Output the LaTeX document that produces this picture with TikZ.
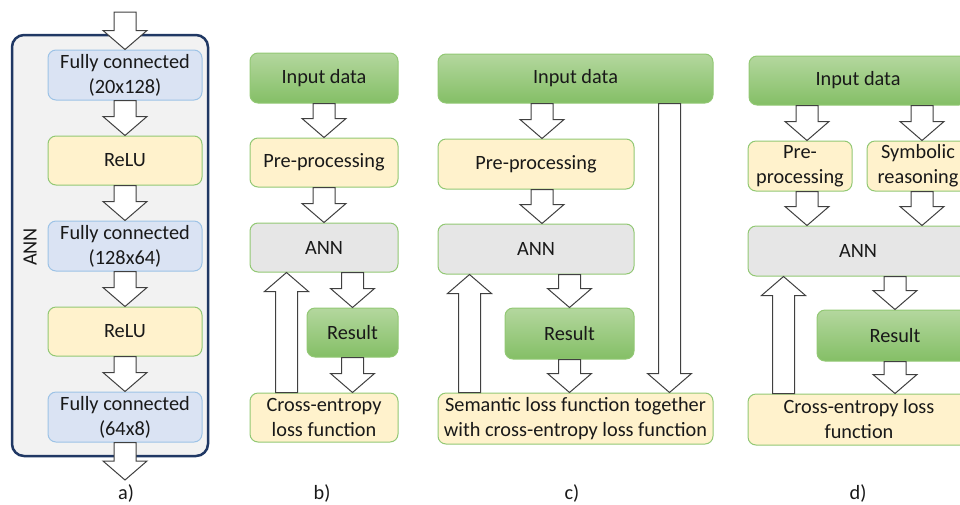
\documentclass[tikz,border=0pt]{standalone}
\usepackage{fontspec}
\setmainfont{Carlito}
\usetikzlibrary{calc}
\definecolor{gtop}{RGB}{180,215,158}
\definecolor{gbot}{RGB}{132,191,102}
\definecolor{gline}{RGB}{146,200,116}
\definecolor{yfill}{RGB}{255,242,204}
\definecolor{grfill}{RGB}{230,230,230}
\definecolor{bfill}{RGB}{218,227,243}
\definecolor{bline}{RGB}{157,195,230}
\definecolor{navy}{RGB}{32,56,100}
\definecolor{panelfill}{RGB}{242,242,242}
\definecolor{arrline}{RGB}{64,64,64}
\definecolor{txt}{RGB}{25,25,25}
\newcommand\dnarr[2]{\draw[barrow] let \p1=#1,\p2=#2 in
  (\x1-11pt,\y1) -- (\x1-11pt,\y2+19pt) -- (\x1-22pt,\y2+19pt) -- (\x1,\y2)
  -- (\x1+22pt,\y2+19pt) -- (\x1+11pt,\y2+19pt) -- (\x1+11pt,\y1) -- cycle;}
\newcommand\uparr[2]{\draw[barrow] let \p1=#1,\p2=#2 in
  (\x1-11pt,\y1) -- (\x1-11pt,\y2-19pt) -- (\x1-22pt,\y2-19pt) -- (\x1,\y2)
  -- (\x1+22pt,\y2-19pt) -- (\x1+11pt,\y2-19pt) -- (\x1+11pt,\y1) -- cycle;}
\begin{document}
\begin{tikzpicture}[x=1pt,y=-1pt,
  font=\fontsize{20.3}{25}\selectfont, text=txt,
  sz/.style 2 args={minimum width=#1pt, minimum height=#2pt},
  box/.style={rounded corners=8pt, line width=1pt, align=center, inner sep=0pt},
  greenbox/.style={box, draw=gline, top color=gtop, bottom color=gbot},
  yelbox/.style={box, draw=gline, fill=yfill},
  graybox/.style={box, draw=gline, fill=grfill},
  bluebox/.style={box, draw=bline, fill=bfill},
  barrow/.style={draw=arrline, fill=white, line width=1pt, line join=miter},
  lab/.style={inner sep=0pt}]
\useasboundingbox (0,0) rectangle (960,504);
\clip (0,0) rectangle (960,504);

% ---------- panel a ----------
\node[draw=navy, line width=2.5pt, fill=panelfill, rounded corners=12pt, sz={196}{421}] (annbox) at (110,245.5) {};
\node[rotate=90, lab] (annlab) at (30,247) {ANN};
\node[bluebox, sz={154}{50}] (fc1) at (125,75) {Fully connected\\(20x128)};
\node[yelbox, sz={154}{49}] (relu1) at (125,160.5) {ReLU};
\node[bluebox, sz={154}{50}] (fc2) at (125,246) {Fully connected\\(128x64)};
\node[yelbox, sz={154}{49}] (relu2) at (125,331.5) {ReLU};
\node[bluebox, sz={154}{50}] (fc3) at (125,417) {Fully connected\\(64x8)};
\coordinate (atop) at (125,12);
\coordinate (abot) at (125,480);
\dnarr{(atop)}{(fc1.north)}
\dnarr{(fc1.south)}{(relu1.north)}
\dnarr{(relu1.south)}{(fc2.north)}
\dnarr{(fc2.south)}{(relu2.north)}
\dnarr{(relu2.south)}{(fc3.north)}
\dnarr{(fc3.south)}{(abot)}
\node[lab] (la) at (126,493) {a)};

% ---------- panel b ----------
\node[greenbox, sz={148}{50}] (inb) at (324,78) {Input data};
\node[yelbox, sz={148}{49}] (preb) at (324,162.5) {Pre-processing};
\node[graybox, sz={148}{49}] (annb) at (324,247.5) {ANN};
\node[greenbox, sz={91}{49}] (resb) at (352.5,332.5) {Result};
\node[yelbox, sz={148}{49}] (lossb) at (324,417.5) {Cross-entropy\\loss function};
\coordinate (fbb) at ([xshift=37pt]lossb.north west);
\dnarr{(inb.south)}{(preb.north)}
\dnarr{(preb.south)}{(annb.north)}
\dnarr{(resb.north |- annb.south)}{(resb.north)}
\dnarr{(resb.south)}{(resb.south |- lossb.north)}
\uparr{(fbb)}{(fbb |- annb.south)}
\node[lab] (lb) at (322,493) {b)};

% ---------- panel c ----------
\node[greenbox, sz={275}{49}] (inc) at (575.5,78.5) {Input data};
\node[yelbox, sz={196}{50}] (prec) at (536,164) {Pre-processing};
\node[graybox, sz={196}{50}] (annc) at (536,249) {ANN};
\node[greenbox, sz={129}{51}] (resc) at (569.5,333.5) {Result};
\node[yelbox, sz={275}{51}] (lossc) at (575.5,418.5) {Semantic loss function together\\with cross-entropy loss function};
\coordinate (lcc) at ([xshift=-44pt]inc.south east);
\coordinate (fbc) at ([xshift=32pt]lossc.north west);
\dnarr{([xshift=6pt]prec.north |- inc.south)}{([xshift=6pt]prec.north)}
\dnarr{([xshift=6pt]prec.south)}{([xshift=6pt]annc.north)}
\dnarr{(resc.north |- annc.south)}{(resc.north)}
\dnarr{(resc.south)}{(resc.south |- lossc.north)}
\dnarr{(lcc)}{(lcc |- lossc.north)}
\uparr{(fbc)}{(fbc |- annc.south)}
\node[lab] (lc) at (572,493) {c)};

% ---------- panel d ----------
\node[greenbox, sz={218}{49}] (ind) at (858,80.5) {Input data};
\node[yelbox, sz={104}{50}] (pred) at (800,166) {Pre-\\processing};
\node[yelbox, sz={102}{50}] (symd) at (918,166) {Symbolic\\reasoning};
\node[graybox, sz={220}{50}] (annd) at (858,251) {ANN};
\node[greenbox, sz={156}{51}] (resd) at (895,335.5) {Result};
\node[yelbox, sz={222}{51}] (lossd) at (859,419.5) {Cross-entropy loss\\function};
\coordinate (fbd) at ([xshift=36pt]lossd.north west);
\dnarr{([xshift=7pt]pred.north |- ind.south)}{([xshift=7pt]pred.north)}
\dnarr{([xshift=4pt]symd.north |- ind.south)}{([xshift=4pt]symd.north)}
\dnarr{([xshift=7pt]pred.south)}{([xshift=7pt]pred.south |- annd.north)}
\dnarr{([xshift=4pt]symd.south)}{([xshift=4pt]symd.south |- annd.north)}
\dnarr{(resd.north |- annd.south)}{(resd.north)}
\dnarr{(resd.south)}{(resd.south |- lossd.north)}
\uparr{(fbd)}{(fbd |- annd.south)}
\node[lab] (ld) at (858,493) {d)};
\end{tikzpicture}
\end{document}
